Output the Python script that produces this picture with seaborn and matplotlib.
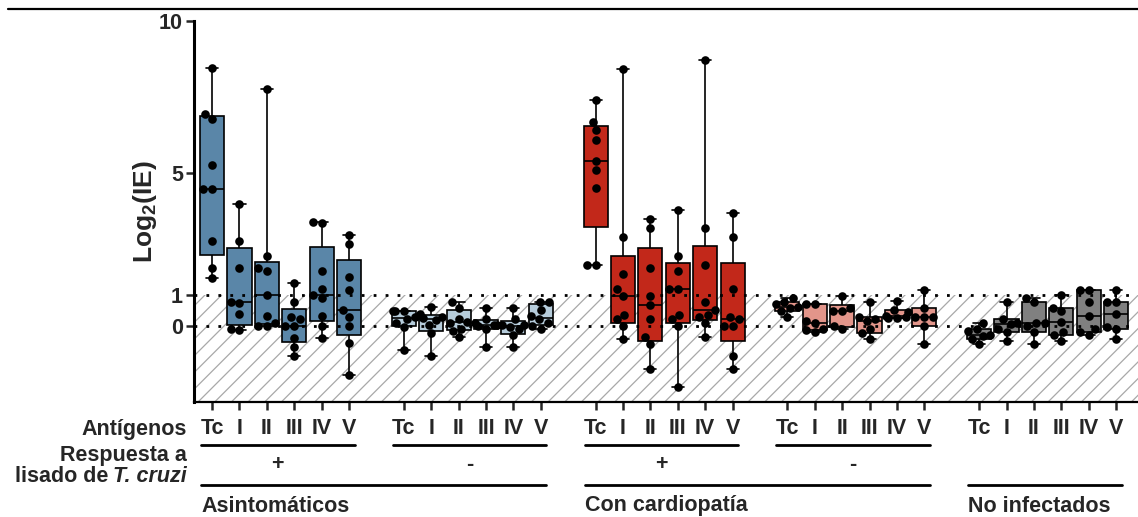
import numpy as np
import pandas as pd
import matplotlib
matplotlib.use("Agg")
import matplotlib.pyplot as plt
import matplotlib.cbook
import matplotlib.transforms as mtransforms
from matplotlib.lines import Line2D
import seaborn as sns

# Antigen panel shown under every group of boxes
antigens = ["Tc", "I", "II", "III", "IV", "V"]

# Log2(IE) per antigen (Tc, I, II, III, IV, V) for each patient group
asint_pos = [
    [8.46, 6.96, 6.78, 5.28, 4.48, 4.48, 2.79, 1.88, 1.58],
    [3.99, 2.79, 1.88, 0.79, 0.75, 0.40, -0.09, -0.14],
    [7.78, 2.28, 1.88, 1.80, 1.00, 0.32, 0.10, -0.01, -0.01],
    [1.39, 0.79, 0.30, 0.21, -0.01, -0.01, -0.39, -0.69, -0.99],
    [3.41, 3.38, 1.79, 1.22, 1.00, 0.90, 0.32, -0.01, -0.39],
    [2.99, 2.70, 1.61, 1.19, 0.51, 0.30, 0.00, -0.58, -1.60],
]
asint_neg = [
    [0.48, 0.48, 0.48, 0.30, 0.21, 0.10, -0.05, -0.80],
    [0.62, 0.38, 0.30, 0.24, 0.20, 0.02, -0.25, -0.99],
    [0.79, 0.60, 0.21, 0.13, 0.10, -0.09, -0.17, -0.38],
    [0.60, 0.21, 0.08, 0.02, 0.02, 0.00, -0.12, -0.71],
    [0.60, 0.21, 0.02, 0.02, -0.03, -0.09, -0.31, -0.71],
    [0.79, 0.79, 0.51, 0.33, 0.21, 0.10, -0.01, -0.09],
]
cardio_pos = [
    [7.42, 6.69, 6.42, 6.10, 5.40, 5.10, 4.51, 2.00, 2.00],
    [8.41, 2.90, 1.70, 1.20, 0.99, 0.37, 0.21, 0.00, -0.42],
    [3.51, 3.21, 1.89, 0.99, 0.68, 0.21, -0.38, -0.60, -1.41],
    [3.81, 2.30, 1.80, 1.20, 1.20, 0.37, 0.21, 0.00, -2.01],
    [8.73, 3.21, 2.00, 0.79, 0.52, 0.37, 0.30, 0.10, -0.38],
    [3.70, 2.90, 1.20, 0.30, 0.21, 0.00, 0.00, -1.00, -1.41],
]
cardio_neg = [
    [0.90, 0.79, 0.70, 0.62, 0.57, 0.50, 0.30],
    [0.71, 0.71, 0.15, 0.10, -0.09, -0.14, -0.20],
    [0.98, 0.60, 0.49, 0.48, -0.01, -0.11],
    [0.79, 0.30, 0.21, 0.15, -0.11, -0.25, -0.42],
    [0.81, 0.51, 0.45, 0.33, 0.30, 0.25, 0.24],
    [1.19, 0.60, 0.30, 0.30, 0.30, 0.00, -0.61],
]
no_infect = [
    [0.10, -0.12, -0.17, -0.30, -0.35, -0.42, -0.61],
    [0.79, 0.21, 0.10, 0.05, -0.11, -0.20, -0.50],
    [0.90, 0.79, 0.10, 0.08, -0.01, -0.20, -0.61],
    [1.00, 0.57, 0.49, 0.13, -0.20, -0.31, -0.49],
    [1.19, 1.19, 0.79, 0.33, -0.11, -0.20, -0.31],
    [1.19, 0.79, 0.79, 0.40, -0.03, -0.11, -0.42],
]

groups = [asint_pos, asint_neg, cardio_pos, cardio_neg, no_infect]
group_colors = ["#5A86A8", "#B6CCDB", "#C2281A", "#E2958A", "#808080"]
response_signs = ["+", "-", "+", "-", None]
cohorts = [("Asintomáticos", 0, 1), ("Con cardiopatía", 2, 3), ("No infectados", 4, 4)]

FS = 15.5

# Quartiles by the (n + 1)p rule, as used for these box plots
_base_boxplot_stats = matplotlib.cbook.boxplot_stats


def boxplot_stats_n1(X, *args, **kwargs):
    stats = _base_boxplot_stats(X, *args, **kwargs)
    for s, x in zip(stats, X):
        x = np.asarray(x, dtype=float)
        if x.size:
            s["q1"], s["q3"] = np.percentile(x, [25, 75], method="weibull")
    return stats


matplotlib.cbook.boxplot_stats = boxplot_stats_n1

sns.set_theme(style="white")
plt.rcParams["font.family"] = ["Liberation Sans", "DejaVu Sans"]
plt.rcParams["font.weight"] = "bold"
plt.rcParams["mathtext.fontset"] = "custom"
plt.rcParams["mathtext.rm"] = "Liberation Sans:bold"
plt.rcParams["mathtext.bf"] = "Liberation Sans:bold"
plt.rcParams["mathtext.it"] = "Liberation Sans:bold:italic"
plt.rcParams["mathtext.default"] = "rm"
plt.rcParams["hatch.color"] = "#a8a8a8"
plt.rcParams["hatch.linewidth"] = 0.9

# Long table with one slot per box and an empty slot between groups
rows, order, palette, tick_pos, tick_lab = [], [], {}, [], []
for g, (data, color) in enumerate(zip(groups, group_colors)):
    for ant, vals in zip(antigens, data):
        key = f"{g}-{ant}"
        tick_pos.append(len(order))
        tick_lab.append(ant)
        order.append(key)
        palette[key] = color
        rows += [(key, v) for v in vals]
    if g < len(groups) - 1:
        order.append(f"gap{g}")
df = pd.DataFrame(rows, columns=["slot", "log2ie"])

fig = plt.figure(figsize=(11.38, 5.17), dpi=100)
ax = fig.add_axes([194 / 1138, 1 - 402 / 517, (1138 - 194) / 1138, (402 - 21) / 517])

y_min, y_max = -2.5, 10
# Hatched band below the positivity cut-off
ax.axhspan(y_min, 1, facecolor="white", edgecolor="#a8a8a8", hatch="//", linewidth=0, zorder=0)

sns.boxplot(data=df, x="slot", y="log2ie", order=order, hue="slot", palette=palette,
            legend=False, width=0.88, whis=(0, 100), showfliers=False,
            linecolor="black", linewidth=1.2, saturation=1, ax=ax)

for yv in (0, 1):
    ax.axhline(yv, color="black", ls=(0, (1, 3.3)), lw=2.0, zorder=2.5)

sns.swarmplot(data=df, x="slot", y="log2ie", order=order, color="black", size=6.2,
              ax=ax, zorder=3)

ax.set_xlim(-0.66, 33.8)
ax.set_ylim(y_min, y_max)
ax.set_yticks([0, 1, 5, 10], ["0", "1", "5", "10"])
ax.set_xticks(tick_pos, tick_lab)
ax.tick_params(axis="y", direction="out", length=6, width=1.8, pad=2, labelsize=FS, left=True)
ax.tick_params(axis="x", direction="out", length=6, width=1.8, pad=5.5, labelsize=FS, bottom=True)
for lab in ax.get_xticklabels() + ax.get_yticklabels():
    lab.set_fontweight("bold")
ax.set_xlabel("")
ax.set_ylabel("Log$_2$(IE)", fontsize=19, fontweight="bold")
ax.yaxis.set_label_coords(-0.037, 0.5)

for side in ("top", "right"):
    ax.spines[side].set_visible(False)
ax.spines["left"].set_linewidth(2.2)
ax.spines["bottom"].set_linewidth(1.6)
for side in ("left", "bottom"):
    ax.spines[side].set_color("black")

# Annotation rows below the axis
trans = mtransforms.blended_transform_factory(ax.transData, fig.transFigure)
y_line1 = 1 - 445 / 517
y_sign = 1 - 465 / 517
y_line2 = 1 - 485 / 517
y_cohort = 1 - 506 / 517
for g, sign in enumerate(response_signs):
    start = g * 7
    if sign is not None:
        ax.add_line(Line2D([start - 0.4, start + 5.2], [y_line1] * 2, transform=trans,
                           color="black", lw=2, clip_on=False))
        ax.text(start + 2.4, y_sign, sign, transform=trans, ha="center", va="center",
                fontsize=FS, fontweight="bold")
for name, g0, g1 in cohorts:
    ax.add_line(Line2D([g0 * 7 - 0.4, g1 * 7 + 5.2], [y_line2] * 2, transform=trans,
                       color="black", lw=2, clip_on=False))
    ax.text(g0 * 7 - 0.4, y_cohort, name, transform=trans, ha="left", va="center",
            fontsize=FS, fontweight="bold")

x_right = 187 / 1138
fig.text(x_right, 1 - 429 / 517, "Antígenos", ha="right", va="center",
         fontsize=FS, fontweight="bold")
fig.text(x_right, 1 - 456 / 517, "Respuesta a", ha="right", va="center",
         fontsize=FS, fontweight="bold")
species = fig.text(x_right, 1 - 476 / 517, "T. cruzi", ha="right", va="center",
                   fontsize=FS, fontweight="bold", style="italic")
fig.canvas.draw()
bb = species.get_window_extent(renderer=fig.canvas.get_renderer())
fig.text((bb.x0 - 5) / 1138, 1 - 476 / 517, "lisado de", ha="right", va="center",
         fontsize=FS, fontweight="bold")

fig.add_artist(Line2D([8 / 1138, 1], [1 - 9 / 517] * 2, color="black", lw=1.6))

fig.savefig("out.png", dpi=100)
